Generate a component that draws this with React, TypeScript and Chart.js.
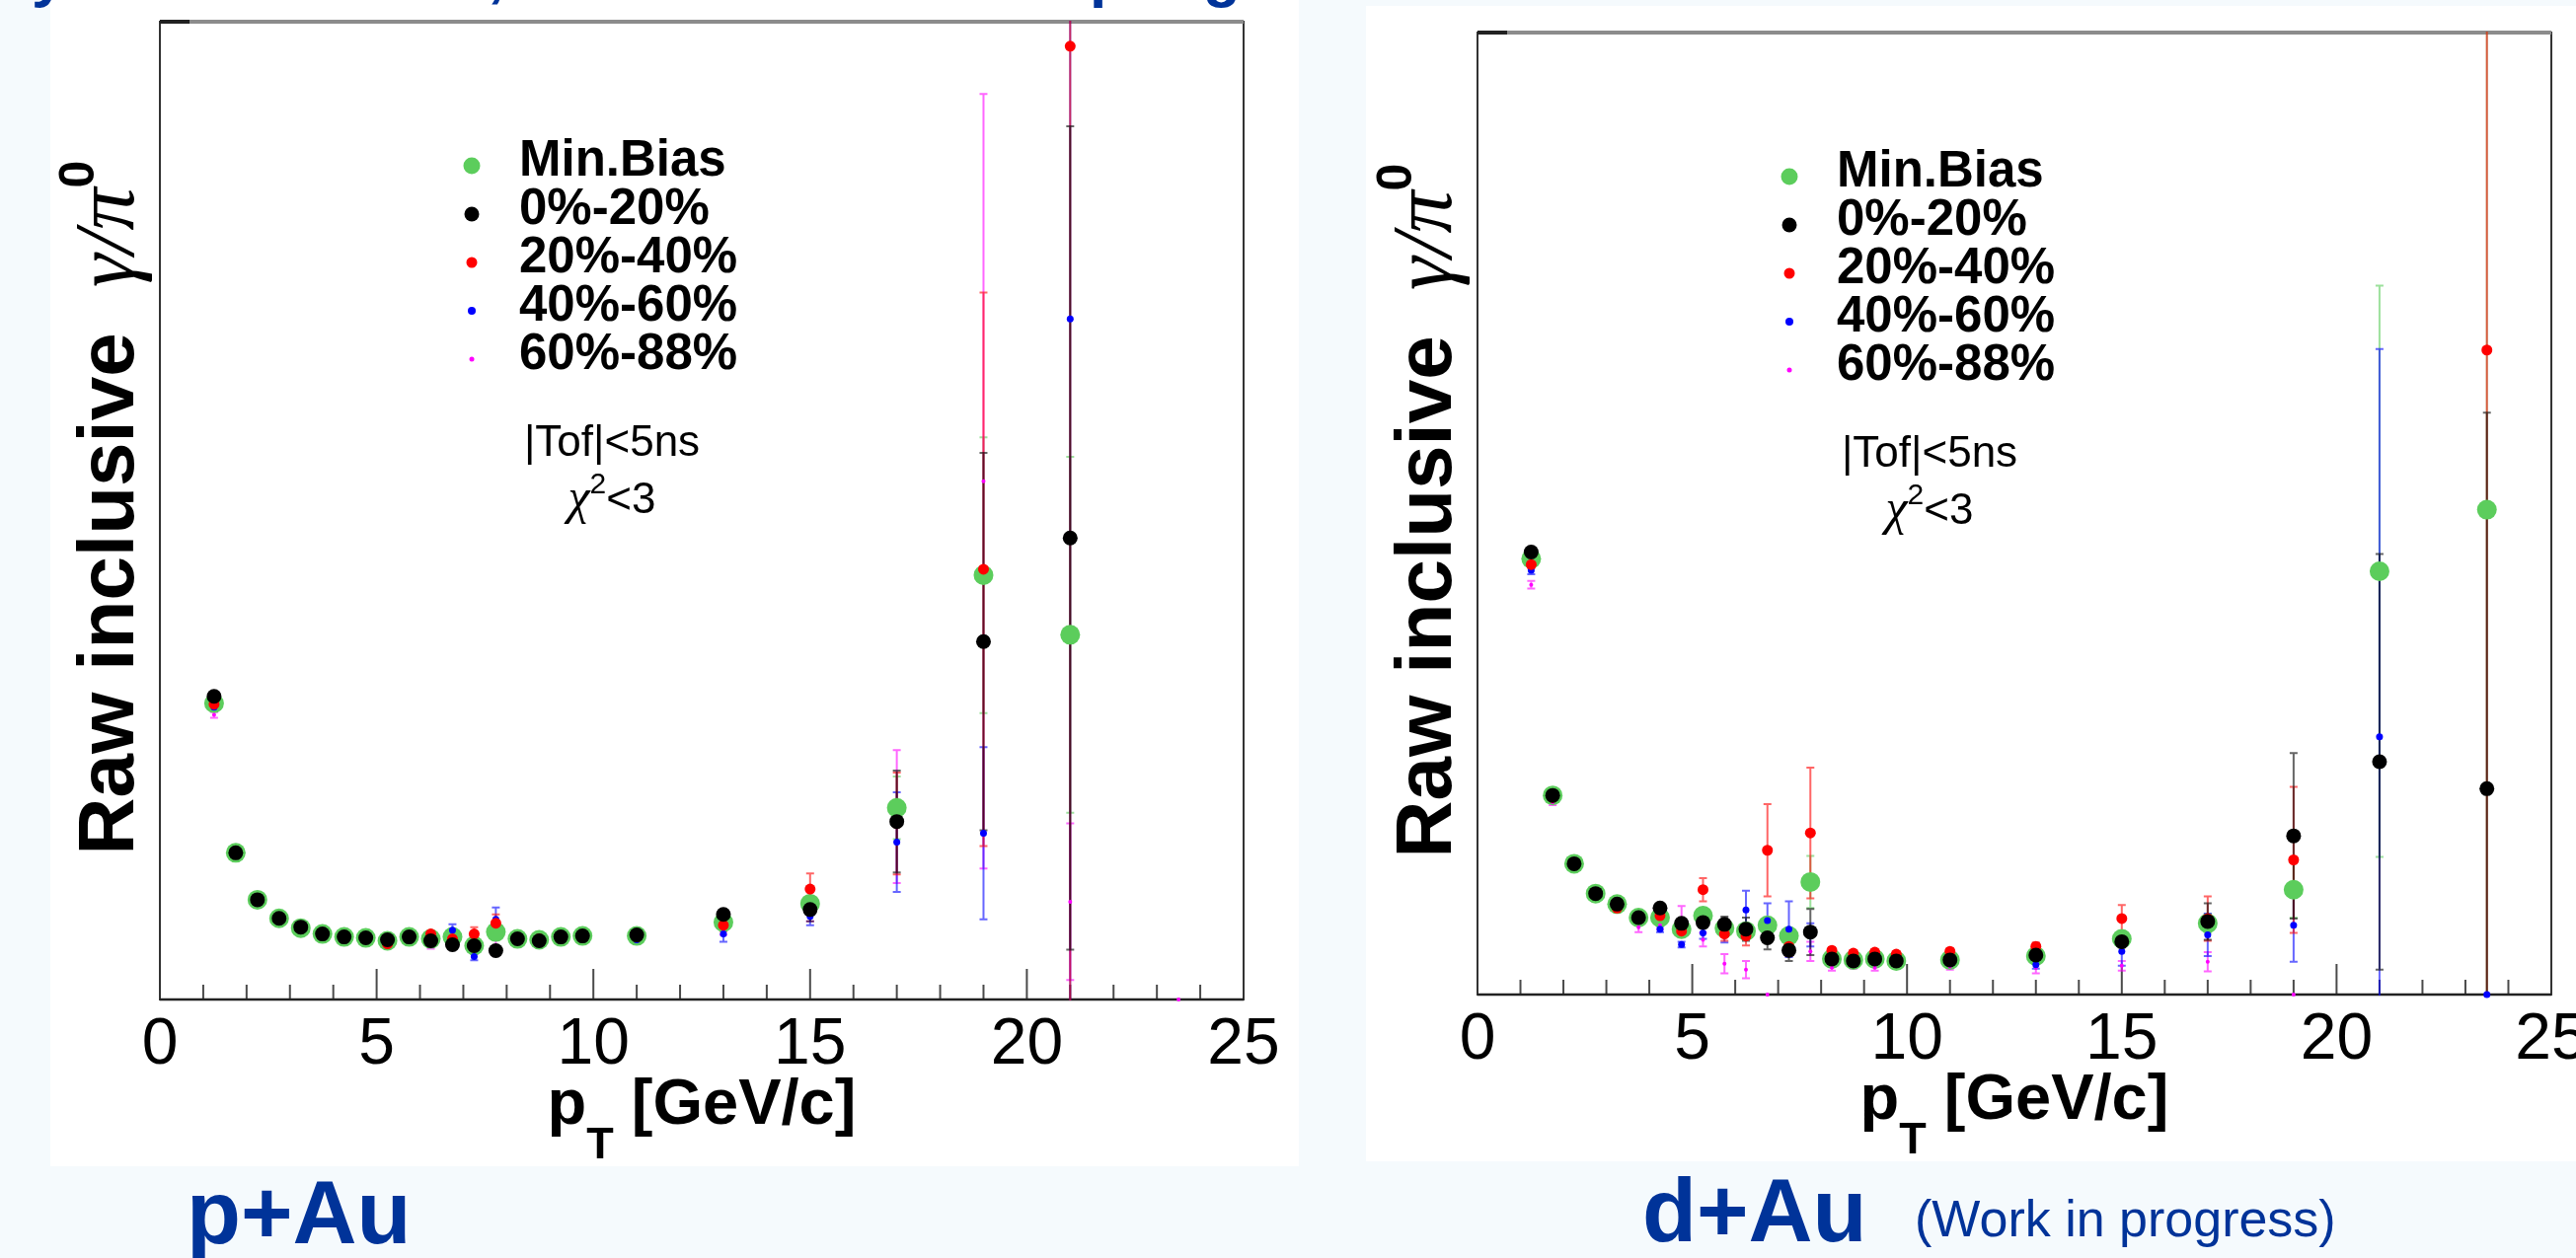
import React, { useEffect, useRef } from 'react';
import { Chart, registerables } from 'chart.js';

Chart.register(...registerables);

// ---------- data ----------
const PT_BINS = [1.25, 1.75, 2.25, 2.75, 3.25, 3.75, 4.25, 4.75, 5.25, 5.75, 6.25, 6.75, 7.25, 7.75, 8.25, 8.75, 9.25, 9.75, 11, 13, 15, 17, 19, 21, 23.5];
const X_TICK_VALUES = [0, 5, 10, 15, 20, 25];
const SERIES_LABELS = ['Min.Bias', '0%-20%', '20%-40%', '40%-60%', '60%-88%'];
const SERIES_COLORS = ['#5ccd5c', '#000000', '#ff0000', '#0000ff', '#ff00ff'];

// p+Au (values as fraction of the frame height; the y axis carries no labels)
const PAU_MINBIAS = [0.303, 0.150, 0.102, 0.083, 0.073, 0.067, 0.064, 0.063, 0.060, 0.064, 0.062, 0.064, 0.055, 0.069, 0.062, 0.061, 0.064, 0.065, 0.065, 0.079, 0.098, 0.196, 0.434, 0.373, null];
const PAU_MINBIAS_ERR = [0.004, 0.003, 0.002, 0.002, 0.002, 0.002, 0.002, 0.002, 0.002, 0.002, 0.002, 0.003, 0.003, 0.006, 0.003, 0.003, 0.003, 0.003, 0.003, 0.005, 0.008, 0.032, 0.141, 0.182, null];
const PAU_C0020 = [0.310, 0.150, 0.102, 0.083, 0.074, 0.067, 0.064, 0.063, 0.061, 0.064, 0.060, 0.056, 0.055, 0.050, 0.062, 0.060, 0.064, 0.065, 0.066, 0.087, 0.092, 0.182, 0.366, 0.472, null];
const PAU_C0020_ERR = [0.004, 0.003, 0.002, 0.002, 0.002, 0.002, 0.002, 0.002, 0.002, 0.002, 0.003, 0.003, 0.004, 0.004, 0.003, 0.003, 0.003, 0.003, 0.003, 0.005, 0.012, 0.052, 0.193, 0.421, null];
const PAU_C2040 = [0.302, 0.149, 0.101, 0.083, 0.073, 0.067, 0.064, 0.063, 0.057, 0.064, 0.067, 0.062, 0.067, 0.078, 0.062, 0.062, 0.064, 0.065, 0.064, 0.076, 0.113, 0.180, 0.440, 0.975, null];
const PAU_C2040_ERR = [0.004, 0.003, 0.002, 0.002, 0.002, 0.002, 0.002, 0.002, 0.003, 0.003, 0.003, 0.004, 0.007, 0.009, 0.003, 0.003, 0.003, 0.003, 0.003, 0.006, 0.016, 0.052, 0.283, 1.0, null];
const PAU_C4060 = [0.299, 0.149, 0.101, 0.083, 0.073, 0.067, 0.064, 0.062, 0.059, 0.063, 0.063, 0.071, 0.044, 0.082, 0.061, 0.060, 0.063, 0.064, 0.061, 0.067, 0.085, 0.161, 0.170, 0.696, null];
const PAU_C4060_ERR = [0.004, 0.003, 0.002, 0.002, 0.002, 0.002, 0.002, 0.003, 0.003, 0.003, 0.003, 0.006, 0.004, 0.012, 0.003, 0.003, 0.003, 0.003, 0.003, 0.008, 0.009, 0.051, 0.088, 0.75, null];
const PAU_C6088 = [0.291, 0.147, 0.100, 0.082, 0.072, 0.066, 0.063, 0.062, 0.060, 0.062, 0.055, 0.060, 0.052, 0.055, 0.060, 0.059, 0.062, 0.062, 0.060, 0.072, 0.090, 0.187, 0.530, 0.100, 0.000];
const PAU_C6088_ERR = [0.003, 0.003, 0.002, 0.002, 0.002, 0.002, 0.002, 0.002, 0.003, 0.003, 0.003, 0.004, 0.005, 0.010, 0.003, 0.003, 0.003, 0.003, 0.003, 0.006, 0.010, 0.068, 0.396, 0.080, 0.000];

// d+Au
const DAU_MINBIAS = [0.453, 0.207, 0.136, 0.105, 0.094, 0.080, 0.080, 0.068, 0.082, 0.069, 0.066, 0.072, 0.061, 0.117, 0.037, 0.036, 0.037, 0.035, 0.036, 0.040, 0.058, 0.074, 0.109, 0.440, 0.504];
const DAU_MINBIAS_ERR = [0.004, 0.003, 0.003, 0.002, 0.002, 0.002, 0.003, 0.003, 0.004, 0.005, 0.005, 0.006, 0.006, 0.027, 0.002, 0.002, 0.002, 0.002, 0.002, 0.003, 0.005, 0.010, 0.029, 0.297, 0.55];
const DAU_C0020 = [0.460, 0.207, 0.136, 0.105, 0.094, 0.080, 0.090, 0.074, 0.075, 0.073, 0.068, 0.059, 0.046, 0.065, 0.037, 0.035, 0.037, 0.035, 0.036, 0.041, 0.055, 0.076, 0.165, 0.242, 0.214];
const DAU_C0020_ERR = [0.004, 0.003, 0.003, 0.002, 0.003, 0.003, 0.004, 0.005, 0.006, 0.008, 0.012, 0.012, 0.011, 0.024, 0.002, 0.002, 0.002, 0.002, 0.002, 0.003, 0.006, 0.019, 0.086, 0.216, 0.391];
const DAU_C2040 = [0.447, 0.205, 0.135, 0.104, 0.090, 0.079, 0.082, 0.066, 0.109, 0.063, 0.061, 0.150, 0.050, 0.168, 0.046, 0.043, 0.044, 0.042, 0.045, 0.050, 0.079, 0.079, 0.140, null, 0.670];
const DAU_C2040_ERR = [0.004, 0.003, 0.003, 0.003, 0.003, 0.003, 0.004, 0.005, 0.012, 0.007, 0.010, 0.048, 0.010, 0.068, 0.003, 0.003, 0.003, 0.003, 0.003, 0.004, 0.014, 0.023, 0.076, null, 0.70];
const DAU_C4060 = [0.441, 0.205, 0.135, 0.104, 0.092, 0.080, 0.068, 0.052, 0.064, 0.066, 0.088, 0.077, 0.068, 0.062, 0.036, 0.035, 0.034, 0.034, 0.035, 0.031, 0.045, 0.062, 0.072, 0.268, 0.000];
const DAU_C4060_ERR = [0.004, 0.003, 0.003, 0.003, 0.003, 0.003, 0.003, 0.003, 0.006, 0.012, 0.020, 0.018, 0.029, 0.012, 0.003, 0.003, 0.003, 0.003, 0.003, 0.004, 0.015, 0.022, 0.038, 0.403, 0.000];
const DAU_C6088 = [0.426, 0.200, 0.134, 0.103, 0.091, 0.070, 0.072, 0.078, 0.057, 0.032, 0.026, 0.000, 0.050, 0.045, 0.028, 0.030, 0.028, 0.030, 0.029, 0.028, 0.030, 0.034, 0.000, null, null];
const DAU_C6088_ERR = [0.004, 0.003, 0.003, 0.003, 0.003, 0.005, 0.004, 0.014, 0.007, 0.010, 0.009, 0.000, 0.008, 0.010, 0.003, 0.003, 0.003, 0.003, 0.003, 0.006, 0.005, 0.010, 0.000, null, null];

const PANEL_NAMES = ['p+Au', 'd+Au'];
const NOTE_TEXT = '(Work in progress)';
const CUT_LINE_1 = '|Tof|<5ns';

// ---------- styling ----------
const SANS = '"Liberation Sans", Arial, Helvetica, sans-serif';
const SERIF = '"Liberation Serif", "Times New Roman", serif';
const POINT_RADIUS = [10, 7.5, 5.5, 3.5, 2];
const LEGEND_RADIUS = [8.5, 7.5, 5.5, 4, 2.5];
const DRAW_ORDER = [4, 0, 1, 2, 3];
const ERR_ORDER = [0, 4, 3, 2, 1];
const DARK_BLUE = '#003399';
const PAGE_BG = '#f5fafd';

type Part = { text?: string; font?: string; dy?: number; gap?: number };

function drawParts(ctx: CanvasRenderingContext2D, parts: Part[], cx: number, y: number) {
  let total = 0;
  const widths = parts.map((p) => {
    if (p.gap) return p.gap;
    ctx.font = p.font as string;
    return ctx.measureText(p.text as string).width;
  });
  widths.forEach((w) => (total += w));
  let x = cx - total / 2;
  parts.forEach((p, i) => {
    if (!p.gap) {
      ctx.font = p.font as string;
      ctx.fillText(p.text as string, x, y + (p.dy || 0));
    }
    x += widths[i];
  });
}

function makeDecor(values: (number | null)[][], errors: (number | null)[][]) {
  return {
    id: 'panelDecor',
    beforeDatasetsDraw(chart: any) {
      const { ctx, chartArea: a } = chart;
      const xs = chart.scales.x;
      const ys = chart.scales.y;
      ctx.save();
      ctx.strokeStyle = '#4a4a4a';
      ctx.lineWidth = 2;
      for (let v = 1; v < 25; v++) {
        const px = xs.getPixelForValue(v);
        const len = v % 5 === 0 ? 31 : 15;
        ctx.beginPath();
        ctx.moveTo(px, a.bottom);
        ctx.lineTo(px, a.bottom - len);
        ctx.stroke();
      }
      ctx.strokeStyle = '#333333';
      ctx.lineWidth = 2;
      ctx.strokeRect(a.left, a.top, a.right - a.left, a.bottom - a.top);
      ctx.strokeStyle = '#8c8c8c';
      ctx.lineWidth = 4;
      ctx.beginPath();
      ctx.moveTo(a.left, a.top);
      ctx.lineTo(a.right, a.top);
      ctx.stroke();
      ctx.strokeStyle = '#222222';
      ctx.beginPath();
      ctx.moveTo(a.left, a.top);
      ctx.lineTo(a.left + 30, a.top);
      ctx.stroke();
      ctx.lineWidth = 2.5;
      ctx.beginPath();
      ctx.moveTo(a.left, a.bottom);
      ctx.lineTo(a.right, a.bottom);
      ctx.stroke();
      ctx.restore();

      ctx.save();
      ctx.beginPath();
      ctx.rect(a.left, a.top - 1, a.right - a.left, a.bottom - a.top + 2);
      ctx.clip();
      ctx.lineWidth = 2;
      ctx.globalAlpha = 0.6;
      ERR_ORDER.forEach((si) => {
        ctx.strokeStyle = SERIES_COLORS[si];
        PT_BINS.forEach((xv, i) => {
          const v = values[si][i];
          const e = errors[si][i];
          if (v == null || e == null || e <= 0) return;
          const px = xs.getPixelForValue(xv);
          const y1 = ys.getPixelForValue(v - e);
          const y2 = ys.getPixelForValue(v + e);
          ctx.beginPath();
          ctx.moveTo(px, y1);
          ctx.lineTo(px, y2);
          ctx.moveTo(px - 4, y1);
          ctx.lineTo(px + 4, y1);
          ctx.moveTo(px - 4, y2);
          ctx.lineTo(px + 4, y2);
          ctx.stroke();
        });
      });
      ctx.restore();
    },
    afterDraw(chart: any) {
      const { ctx, chartArea: a } = chart;
      ctx.save();
      ctx.textBaseline = 'alphabetic';
      ctx.textAlign = 'left';
      SERIES_LABELS.forEach((label, si) => {
        const cy = a.top + 146 + si * 49;
        ctx.fillStyle = SERIES_COLORS[si];
        ctx.beginPath();
        ctx.arc(a.left + 316, cy, LEGEND_RADIUS[si], 0, Math.PI * 2);
        ctx.fill();
        ctx.fillStyle = '#000';
        ctx.font = `bold 51px ${SANS}`;
        ctx.fillText(label, a.left + 364, cy + 10);
      });
      ctx.fillStyle = '#000';
      drawParts(ctx, [{ text: CUT_LINE_1, font: `44px ${SANS}` }], a.left + 458, a.top + 440);
      drawParts(
        ctx,
        [
          { text: 'χ', font: `italic 50px ${SERIF}` },
          { text: '2', font: `30px ${SANS}`, dy: -20 },
          { text: '<3', font: `44px ${SANS}` },
        ],
        a.left + 458,
        a.top + 498
      );
      drawParts(
        ctx,
        [
          { text: 'p', font: `bold 65px ${SANS}` },
          { text: 'T', font: `bold 45px ${SANS}`, dy: 35 },
          { text: ' [GeV/c]', font: `bold 65px ${SANS}` },
        ],
        (a.left + a.right) / 2,
        a.bottom + 126
      );
      ctx.save();
      ctx.translate(a.left - 27, (a.top + a.bottom) / 2 - 3);
      ctx.rotate(-Math.PI / 2);
      drawParts(
        ctx,
        [
          { text: 'Raw inclusive', font: `bold 80px ${SANS}` },
          { gap: 46 },
          { text: 'γ/π', font: `italic 86px ${SERIF}` },
          { text: '0', font: `bold 50px ${SANS}`, dy: -40 },
        ],
        0,
        0
      );
      ctx.restore();
      ctx.restore();
    },
  };
}

type PanelProps = {
  values: (number | null)[][];
  errors: (number | null)[][];
  left: number;
  top: number;
  width: number;
  height: number;
  padding: { left: number; right: number; top: number; bottom: number };
};

function Panel({ values, errors, left, top, width, height, padding }: PanelProps) {
  const ref = useRef<HTMLCanvasElement>(null);
  useEffect(() => {
    const canvas = ref.current as HTMLCanvasElement;
    const datasets = SERIES_LABELS.map((label, si) => ({
      label,
      data: PT_BINS.map((x, i) => (values[si][i] == null ? null : { x, y: values[si][i] as number })).filter(
        (p) => p !== null
      ) as { x: number; y: number }[],
      pointRadius: POINT_RADIUS[si],
      pointHoverRadius: POINT_RADIUS[si],
      pointBackgroundColor: SERIES_COLORS[si],
      pointBorderWidth: 0,
      borderColor: SERIES_COLORS[si],
      backgroundColor: SERIES_COLORS[si],
      showLine: false,
      order: DRAW_ORDER[si],
      clip: false as any,
    }));
    const chart = new Chart(canvas, {
      type: 'scatter',
      data: { datasets },
      options: {
        animation: false,
        responsive: false,
        maintainAspectRatio: false,
        events: [],
        layout: { padding },
        plugins: { legend: { display: false }, tooltip: { enabled: false } },
        scales: {
          x: {
            type: 'linear',
            min: 0,
            max: 25,
            afterBuildTicks: (s: any) => {
              s.ticks = X_TICK_VALUES.map((v) => ({ value: v }));
            },
            afterFit: (s: any) => {
              s.height = 100;
            },
            grid: { display: false, drawTicks: false },
            border: { display: false },
            ticks: {
              font: { family: SANS, size: 66 },
              color: '#000',
              padding: 7,
              maxRotation: 0,
              autoSkip: false,
            },
          },
          y: { type: 'linear', min: 0, max: 1, display: false },
        },
      } as any,
      plugins: [makeDecor(values, errors)],
    });
    return () => chart.destroy();
  }, []);
  return (
    <div style={{ position: 'absolute', left, top, width, height, background: '#ffffff' }}>
      <canvas ref={ref} width={width} height={height} style={{ display: 'block', width, height }} />
    </div>
  );
}

const frag = (text: string, left: number) => (
  <span
    key={left}
    style={{
      position: 'absolute',
      left,
      top: -57,
      font: `bold 62px ${SANS}`,
      lineHeight: '62px',
      color: DARK_BLUE,
      whiteSpace: 'pre',
    }}
  >
    {text}
  </span>
);

export default function App() {
  return (
    <div
      style={{
        position: 'fixed',
        left: 0,
        top: 0,
        width: 2610,
        height: 1275,
        overflow: 'hidden',
        background: PAGE_BG,
      }}
    >
      <Panel
        values={[PAU_MINBIAS, PAU_C0020, PAU_C2040, PAU_C4060, PAU_C6088]}
        errors={[PAU_MINBIAS_ERR, PAU_C0020_ERR, PAU_C2040_ERR, PAU_C4060_ERR, PAU_C6088_ERR]}
        left={51}
        top={0}
        width={1265}
        height={1182}
        padding={{ left: 111, right: 56, top: 22, bottom: 69 }}
      />
      <Panel
        values={[DAU_MINBIAS, DAU_C0020, DAU_C2040, DAU_C4060, DAU_C6088]}
        errors={[DAU_MINBIAS_ERR, DAU_C0020_ERR, DAU_C2040_ERR, DAU_C4060_ERR, DAU_C6088_ERR]}
        left={1384}
        top={6}
        width={1276}
        height={1171}
        padding={{ left: 113, right: 75, top: 27, bottom: 69 }}
      />
      {frag('y', 32)}
      {frag(',', 494)}
      {frag('p', 1104)}
      {frag('g', 1219)}
      <div
        style={{
          position: 'absolute',
          left: 189,
          top: 1184,
          font: `bold 90px ${SANS}`,
          lineHeight: '90px',
          color: DARK_BLUE,
          whiteSpace: 'nowrap',
        }}
      >
        {PANEL_NAMES[0]}
      </div>
      <div
        style={{
          position: 'absolute',
          left: 1664,
          top: 1182,
          font: `bold 90px ${SANS}`,
          lineHeight: '90px',
          color: DARK_BLUE,
          whiteSpace: 'nowrap',
        }}
      >
        {PANEL_NAMES[1]}
      </div>
      <div
        style={{
          position: 'absolute',
          left: 1940,
          top: 1209,
          font: `52px ${SANS}`,
          lineHeight: '52px',
          color: DARK_BLUE,
          whiteSpace: 'nowrap',
        }}
      >
        {NOTE_TEXT}
      </div>
    </div>
  );
}
